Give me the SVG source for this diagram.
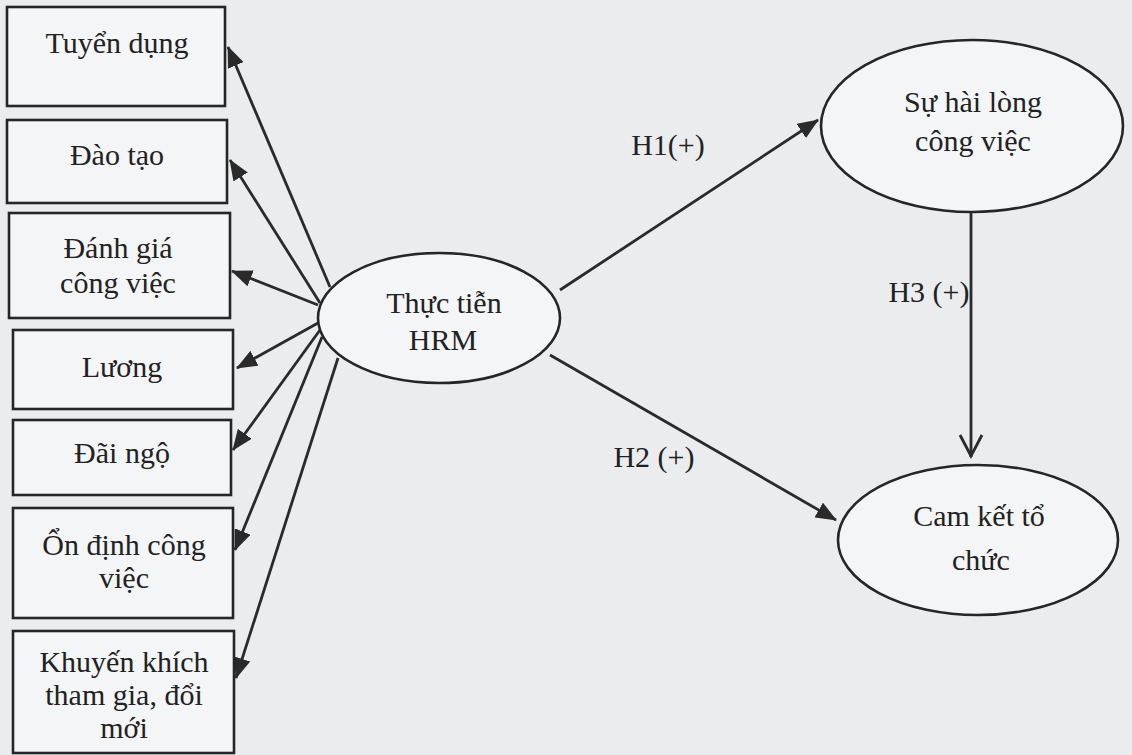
<svg xmlns="http://www.w3.org/2000/svg" width="1132" height="755" viewBox="0 0 1132 755">
<style>
.bg{fill:#eaecee}
.box{fill:#f4f5f6;stroke:#262626;stroke-width:2.6}
.ell{fill:#f4f5f6;stroke:#262626;stroke-width:2.6}
.t{font-family:"Liberation Serif","Times New Roman",serif;font-size:30px;fill:#222;text-anchor:middle}
.c{stroke:#2a2a2a;stroke-width:2.8;fill:none}
</style>
<defs>
<marker id="ah" markerUnits="userSpaceOnUse" markerWidth="21" markerHeight="17" viewBox="0 0 21 17" refX="20" refY="8.5" orient="auto">
<path d="M0,0 L21,8.5 L0,17 Z" fill="#2a2a2a"/>
</marker>
</defs>
<rect class="bg" x="0" y="0" width="1132" height="755"/>
<g id="connectors">
<line class="c" x1="330" y1="287" x2="228" y2="47" marker-end="url(#ah)"/>
<line class="c" x1="320" y1="303" x2="230" y2="160" marker-end="url(#ah)"/>
<line class="c" x1="318" y1="305" x2="232" y2="271" marker-end="url(#ah)"/>
<line class="c" x1="318" y1="323" x2="237" y2="368" marker-end="url(#ah)"/>
<line class="c" x1="320" y1="330" x2="233" y2="450" marker-end="url(#ah)"/>
<line class="c" x1="322" y1="337" x2="235" y2="550" marker-end="url(#ah)"/>
<line class="c" x1="338" y1="358" x2="236" y2="678" marker-end="url(#ah)"/>
<line class="c" x1="560" y1="290" x2="818" y2="120" marker-end="url(#ah)"/>
<line class="c" x1="550" y1="355" x2="836" y2="520" marker-end="url(#ah)"/>
<line class="c" x1="971" y1="212" x2="971" y2="457"/>
<polyline class="c" points="960,435 971,456 982,435"/>
<text class="t" x="668" y="155">H1(+)</text>
<text class="t" x="654" y="467">H2 (+)</text>
<text class="t" x="929" y="302">H3 (+)</text>
</g>
<g id="n-tuyen-dung">
<rect class="box" x="7" y="7" width="218" height="99"/>
<text class="t" x="117" y="53">Tuyển dụng</text>
</g>
<g id="n-dao-tao">
<rect class="box" x="7" y="120" width="220" height="83"/>
<text class="t" x="117" y="165">Đào tạo</text>
</g>
<g id="n-danh-gia">
<rect class="box" x="9" y="213" width="221" height="105"/>
<text class="t" x="118" y="258">Đánh giá</text>
<text class="t" x="118" y="293">công việc</text>
</g>
<g id="n-luong">
<rect class="box" x="13" y="330" width="220" height="79"/>
<text class="t" x="122" y="377">Lương</text>
</g>
<g id="n-dai-ngo">
<rect class="box" x="13" y="420" width="218" height="75"/>
<text class="t" x="122" y="463">Đãi ngộ</text>
</g>
<g id="n-on-dinh">
<rect class="box" x="13" y="508" width="220" height="110"/>
<text class="t" x="124" y="555">Ổn định công</text>
<text class="t" x="124" y="588">việc</text>
</g>
<g id="n-khuyen-khich">
<rect class="box" x="13" y="631" width="221" height="122"/>
<text class="t" x="124" y="672">Khuyến khích</text>
<text class="t" x="124" y="705">tham gia, đổi</text>
<text class="t" x="124" y="738">mới</text>
</g>
<g id="n-hrm">
<ellipse class="ell" cx="439" cy="318" rx="121" ry="65"/>
<text class="t" x="444" y="313">Thực tiễn</text>
<text class="t" x="443" y="350">HRM</text>
</g>
<g id="n-hai-long">
<ellipse class="ell" cx="972" cy="126" rx="151" ry="86"/>
<text class="t" x="973" y="112">Sự hài lòng</text>
<text class="t" x="973" y="151">công việc</text>
</g>
<g id="n-cam-ket">
<ellipse class="ell" cx="978" cy="540" rx="140" ry="75"/>
<text class="t" x="979" y="526">Cam kết tổ</text>
<text class="t" x="981" y="570">chức</text>
</g>
</svg>
